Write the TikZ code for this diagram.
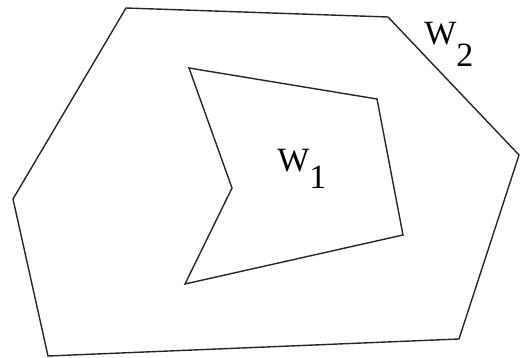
\documentclass[tikz,border=0pt]{standalone}
\usepackage{fontspec}
\setmainfont{Liberation Serif}
\usepackage{tikz}
\usetikzlibrary{positioning}

\tikzset{
  region/.style={draw=black!85, line width=0.7pt, line join=miter},
  lab/.style={anchor=base west, inner sep=0pt, font=\fontsize{17}{17}\selectfont}
}

\begin{document}
\begin{tikzpicture}[x=0.5pt, y=-0.5pt]
    \useasboundingbox (0,0) rectangle (520,358);

    % outer region
    \coordinate (o1) at (126,8);
    \coordinate (o2) at (388,17);
    \coordinate (o3) at (519,155);
    \coordinate (o4) at (459,339);
    \coordinate (o5) at (48,356);
    \coordinate (o6) at (13,199);

    % inner region
    \coordinate (i1) at (189,68);
    \coordinate (i2) at (377,99);
    \coordinate (i3) at (403,235);
    \coordinate (i4) at (185,284);
    \coordinate (i5) at (232,188);

    \draw[region] (o1) -- (o2) -- (o3) -- (o4) -- (o5) -- (o6) -- cycle;
    \draw[region] (i1) -- (i2) -- (i3) -- (i4) -- (i5) -- cycle;

    \node[lab] (w2) at (424,45) {W\raisebox{-11pt}{2}};
    \node[lab] (w1) at (277,172) {W\raisebox{-8.5pt}{1}};
\end{tikzpicture}
\end{document}
